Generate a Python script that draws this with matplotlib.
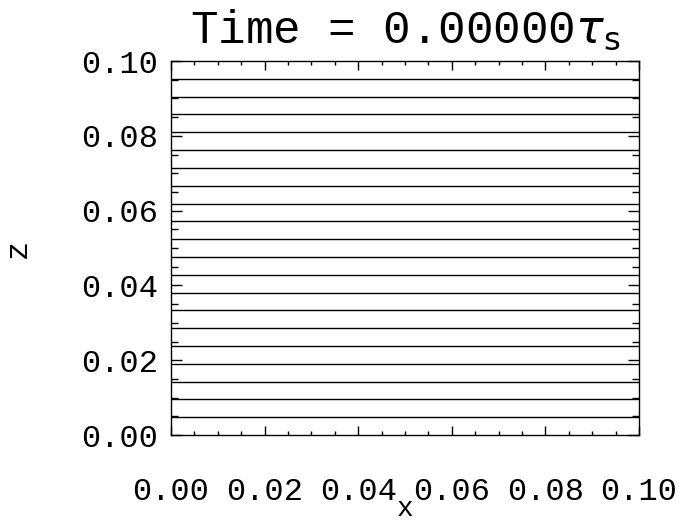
## Field lines at t = 0 : flat horizontal lines across the box, IDL-style frame.

import matplotlib
matplotlib.use('Agg')
import matplotlib.pyplot as plt
from matplotlib.ticker import MultipleLocator

plt.rcParams['font.family'] = ['Liberation Mono', 'DejaVu Sans Mono']
plt.rcParams['mathtext.fontset'] = 'dejavusans'

## x extent of every line, and the heights of the lines
x_ends = [0.0, 0.1]
z_lines = [0.0048, 0.0095, 0.0143, 0.0190, 0.0238, 0.0286, 0.0333,
           0.0381, 0.0429, 0.0476, 0.0524, 0.0571, 0.0619, 0.0667,
           0.0714, 0.0762, 0.0810, 0.0857, 0.0905, 0.0952]
x_ticks = [0.00, 0.02, 0.04, 0.06, 0.08, 0.10]
y_ticks = [0.00, 0.02, 0.04, 0.06, 0.08, 0.10]
tick_labels = ['0.00', '0.02', '0.04', '0.06', '0.08', '0.10']


def plot_lines():
    fig = plt.figure(figsize=(6.86, 5.25), dpi=100)
    ax = fig.add_axes([0.2493, 0.1714, 0.6822, 0.7124])

    for z in z_lines:
        ax.plot(x_ends, [z, z], color='black', lw=1.0)

    ax.set_xlim(0, 0.1)
    ax.set_ylim(0, 0.1)
    ax.set_xticks(x_ticks)
    ax.set_xticklabels(tick_labels)
    ax.set_yticks(y_ticks)
    ax.set_yticklabels(tick_labels)
    ax.xaxis.set_minor_locator(MultipleLocator(0.005))
    ax.yaxis.set_minor_locator(MultipleLocator(0.005))

    ax.tick_params(axis='both', which='both', direction='in',
                   top=True, right=True, width=1.0, labelsize=23)
    ax.tick_params(axis='x', which='major', length=6.5, pad=30)
    ax.tick_params(axis='x', which='minor', length=3.2)
    ax.tick_params(axis='y', which='major', length=8, pad=9)
    ax.tick_params(axis='y', which='minor', length=5)
    for s in ax.spines.values():
        s.set_linewidth(1.0)

    ax.set_title(r'Time = 0.00000$\tau_{\rm s}$', fontsize=33, pad=13)
    ax.set_xlabel('x', fontsize=20, va='baseline')
    ax.xaxis.set_label_coords(0.5, -0.2166)
    ax.set_ylabel('z', fontsize=23)
    ax.yaxis.set_label_coords(-0.295, 0.5)

    fig.savefig('out.png', dpi=100)


if __name__ == '__main__':
    plot_lines()
